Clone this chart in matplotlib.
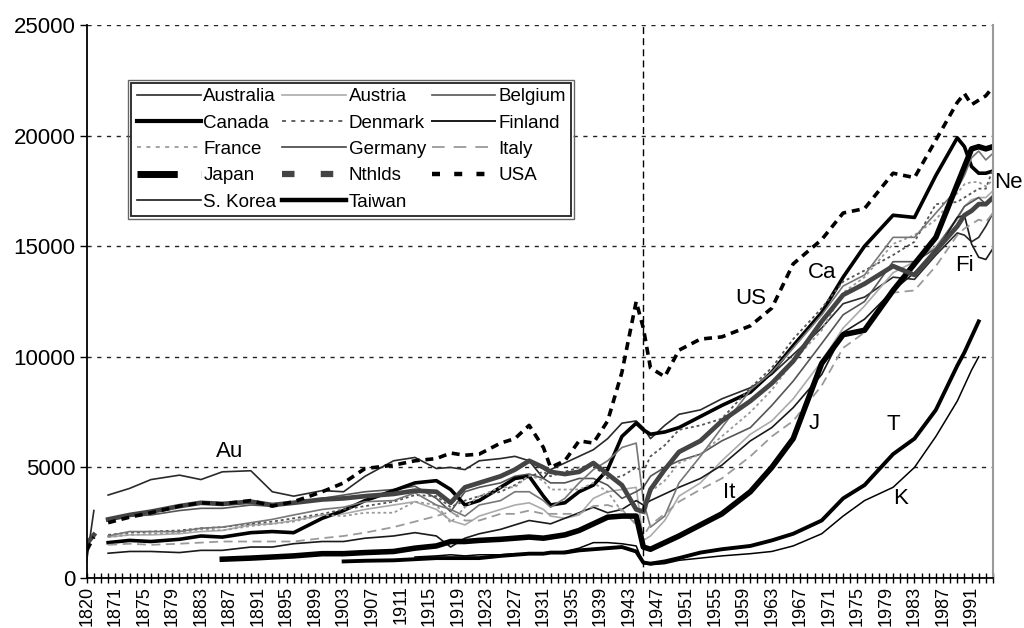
import matplotlib
matplotlib.use('Agg')
import matplotlib.pyplot as plt
from matplotlib.lines import Line2D
from matplotlib.patches import Rectangle
import numpy as np

plt.rcParams['font.family'] = ['Liberation Sans', 'DejaVu Sans']

# category axis: 1820, 1850, 1860, 1870, then every year to 1994
categories = ['1820', '1850', '1860', '1870'] + [str(y) for y in range(1871, 1995)]

years = [1820, 1850, 1860,
         1870, 1873, 1876, 1880, 1883, 1886, 1890, 1893, 1896, 1900,
         1903, 1906, 1910, 1913, 1916, 1918, 1920, 1922, 1925, 1927,
         1929, 1931, 1932, 1934, 1936, 1938, 1940, 1942, 1944, 1945,
         1946, 1948, 1950, 1953, 1956, 1960, 1963, 1966, 1970, 1973,
         1976, 1980, 1983, 1986, 1989, 1990, 1991, 1992, 1993, 1994]

australia = [800, 3050, None,
             3750, 4050, 4450, 4650, 4450, 4800, 4850, 3900, 3700, 3950,
             3900, 4600, 5300, 5450, 4950, 5000, 4900, 5300, 5400, 5500,
             5300, 4500, 4900, 5200, 5500, 5800, 6300, 7000, 7100, 6800,
             6300, 6900, 7400, 7600, 8100, 8600, 9200, 10100, 11300, 12400,
             12700, 13600, 13500, 14600, 15600, 15500, 15200, 15400, 15900, 16500]
austria = [None, None, None,
           1850, 1950, 1950, 2000, 2100, 2150, 2400, 2450, 2600, 2850,
           2900, 3100, 3300, 3450, 3100, 2600, 2400, 2800, 3100, 3300,
           3400, 3100, 2800, 2700, 2850, 3600, 3900, 4000, 4100, 1700,
           1900, 2600, 3700, 4300, 5300, 6500, 7100, 8100, 9800, 11300,
           12300, 13800, 14300, 15000, 16200, 16800, 17100, 17200, 17200, 17500]
belgium = [None, None, None,
           2650, 2800, 2850, 3050, 3150, 3150, 3300, 3250, 3400, 3600,
           3750, 3900, 4000, 4150, 3600, 3000, 3900, 4100, 4300, 4600,
           4700, 4500, 4300, 4300, 4500, 4500, 4200, 3600, 3900, 4100,
           4600, 5000, 5300, 5600, 6200, 6800, 7800, 8900, 10600, 11900,
           12500, 14300, 14300, 14900, 16300, 16800, 17000, 17200, 16900, 17300]
canada = [None, None, None,
          1600, 1700, 1650, 1750, 1900, 1850, 2050, 2100, 2050, 2700,
          3050, 3500, 3950, 4300, 4400, 4000, 3300, 3500, 4100, 4500,
          4600, 3700, 3300, 3400, 3900, 4200, 4900, 6400, 7000, 6700,
          6500, 6600, 6800, 7300, 7800, 8400, 9300, 10500, 12000, 13600,
          15000, 16400, 16300, 18200, 19900, 19500, 18600, 18300, 18300, 18400]
denmark = [None, None, None,
           1950, 2050, 2100, 2150, 2250, 2300, 2450, 2550, 2700, 2900,
           3100, 3250, 3450, 3750, 3700, 3200, 3500, 3700, 3900, 4200,
           4600, 4800, 4600, 4800, 5000, 5100, 4500, 4600, 5000, 4800,
           5500, 6000, 6700, 6900, 7200, 8600, 9500, 10800, 12200, 13400,
           13900, 14600, 15200, 16900, 17000, 17200, 17400, 17600, 17600, 18500]
finland = [None, None, None,
           1120, 1200, 1200, 1150, 1250, 1250, 1400, 1400, 1550, 1650,
           1650, 1800, 1900, 2050, 1900, 1400, 1800, 2000, 2200, 2400,
           2600, 2500, 2450, 2700, 2950, 3200, 2950, 3100, 3500, 3300,
           3500, 3800, 4100, 4500, 5100, 6200, 6800, 7700, 9200, 11100,
           11700, 13000, 13800, 14700, 16300, 16400, 15100, 14500, 14400, 14900]
france = [None, None, None,
          1850, 1950, 2000, 2050, 2200, 2150, 2350, 2450, 2550, 2850,
          2800, 2950, 2950, 3450, 3300, 2500, 3200, 3700, 4100, 4100,
          4650, 4400, 4000, 4000, 4000, 4300, 3900, 3000, 2500, 2600,
          3900, 4400, 5200, 5600, 6400, 7500, 8500, 9800, 11200, 12900,
          13600, 15100, 15500, 16200, 17400, 17800, 17900, 17900, 17700, 18000]
germany = [None, None, None,
           1900, 2100, 2100, 2100, 2250, 2300, 2500, 2650, 2850, 3100,
           3200, 3450, 3500, 3850, 3300, 3100, 2800, 3300, 3500, 3900,
           3900, 3500, 3200, 3600, 4300, 4900, 5300, 5900, 6100, 3500,
           2300, 2800, 4300, 5500, 6800, 8500, 9300, 10400, 11900, 13200,
           13700, 15400, 15400, 16500, 17600, 18200, 19000, 19300, 18900, 19200]
italy = [None, None, None,
         1500, 1550, 1500, 1550, 1600, 1650, 1650, 1650, 1650, 1800,
         1900, 2050, 2300, 2550, 2800, 3000, 2600, 2600, 2900, 2900,
         3050, 2900, 2900, 2900, 2900, 3250, 3300, 3100, 2400, 1900,
         2400, 2900, 3450, 4000, 4500, 5500, 6400, 7100, 8700, 10400,
         11100, 12900, 13000, 14100, 15500, 15800, 16000, 16200, 16100, 16500]
japan = [None, None, None,
         None, None, None, None, None, 850, 900, 950, 1000, 1100,
         1100, 1150, 1200, 1350, 1450, 1650, 1650, 1700, 1750, 1800,
         1850, 1800, 1850, 1950, 2150, 2450, 2750, 2800, 2800, 1400,
         1300, 1600, 1900, 2400, 2900, 3900, 5000, 6300, 9700, 11000,
         11200, 13000, 14200, 15400, 17800, 18600, 19400, 19500, 19400, 19500]
netherlands = [1550, 1950, None,
               2650, 2850, 3000, 3250, 3400, 3350, 3450, 3300, 3400, 3550,
               3600, 3700, 3800, 3950, 3900, 3400, 4100, 4300, 4600, 4900,
               5300, 5000, 4800, 4700, 4800, 5200, 4700, 4200, 3100, 3000,
               4000, 4900, 5700, 6200, 7100, 8000, 8800, 9800, 11600, 12800,
               13300, 14100, 13700, 14800, 15900, 16400, 16600, 16900, 16900, 17200]
usa = [1250, 1850, None,
       2500, 2750, 2950, 3250, 3400, 3350, 3500, 3250, 3450, 3900,
       4300, 4950, 5100, 5300, 5400, 5650, 5550, 5600, 6100, 6300,
       6900, 5900, 5000, 5300, 6200, 6100, 7100, 9300, 12500, 11300,
       9500, 9100, 10300, 10800, 10900, 11400, 12200, 14200, 15300, 16500,
       16700, 18300, 18100, 19800, 21500, 21900, 21400, 21600, 21800, 22200]
korea = [None, None, None,
         None, None, None, None, None, None, None, None, None, None,
         None, None, None, 950, 1000, 1050, 1000, 1050, 1050, 1100,
         1100, 1100, 1150, 1200, 1350, 1600, 1600, 1550, 1450, 650,
         600, 650, 800, 900, 1000, 1100, 1200, 1450, 2000, 2800,
         3500, 4100, 5000, 6400, 8000, 8700, 9400, 10000, None, None]
taiwan = [None, None, None,
          None, None, None, None, None, None, None, None, None, None,
          750, 780, 800, 850, 900, 900, 900, 900, 1000, 1050,
          1100, 1100, 1150, 1150, 1250, 1300, 1350, 1400, 1200, 700,
          650, 750, 900, 1150, 1300, 1450, 1700, 2000, 2600, 3600,
          4200, 5600, 6300, 7600, 9600, 10200, 10900, 11600, None, None]

names = ['Australia', 'Austria', 'Belgium', 'Canada', 'Denmark', 'Finland',
         'France', 'Germany', 'Italy', 'Japan', 'Nthlds', 'USA',
         'S. Korea', 'Taiwan']
data = [australia, austria, belgium, canada, denmark, finland, france,
        germany, italy, japan, netherlands, usa, korea, taiwan]

# style in the plot area
styles = [
    dict(color='#2a2a2a', lw=1.2),
    dict(color='#ababab', lw=1.2),
    dict(color='#555555', lw=1.2),
    dict(color='black', lw=2.6),
    dict(color='#555555', lw=1.3, ls=(0, (1.6, 1.6))),
    dict(color='#1a1a1a', lw=1.2),
    dict(color='#9a9a9a', lw=1.3, ls=(0, (1.6, 1.6))),
    dict(color='#777777', lw=1.2),
    dict(color='#9a9a9a', lw=1.3, ls=(0, (5, 3))),
    dict(color='black', lw=4.0),
    dict(color='#444444', lw=3.4),
    dict(color='black', lw=2.6, ls=(0, (2.2, 1.6))),
    dict(color='black', lw=1.1),
    dict(color='black', lw=2.8),
]
# style of the legend keys (Excel draws the dashes differently there)
key_styles = [
    dict(color='#2a2a2a', lw=1.2),
    dict(color='#ababab', lw=1.2),
    dict(color='#555555', lw=1.2),
    dict(color='black', lw=3.0),
    dict(color='#555555', lw=1.3, ls=(0, (2.2, 3.0))),
    dict(color='#1a1a1a', lw=1.4),
    dict(color='#9a9a9a', lw=1.3, ls=(0, (2.2, 3.0))),
    dict(color='#444444', lw=1.2),
    dict(color='#9a9a9a', lw=1.3, ls=(0, (7, 5))),
    dict(color='black', lw=5.0, ls=(0, (5.8, 3.4))),
    dict(color='#444444', lw=4.5, ls=(0, (2.0, 4.2))),
    dict(color='black', lw=3.2, ls=(0, (1.8, 3.2))),
    dict(color='#1a1a1a', lw=1.2),
    dict(color='black', lw=3.2),
]

pos = np.array([categories.index(str(y)) for y in years])

fig = plt.figure(figsize=(10.24, 6.28), dpi=100)
ax = fig.add_axes([0.0847, 0.0796, 0.885, 0.8806])

for vals, st in zip(data, styles):
    v = np.array([np.nan if x is None else x for x in vals], dtype=float)
    ax.plot(pos, v, solid_joinstyle='round', **st)

ax.axvline(categories.index('1945'), color='black', lw=1.0, ls=(0, (5, 3)))

ax.set_xlim(0, len(categories) - 1)
ax.set_ylim(0, 25000)
ax.set_yticks(range(0, 25001, 5000))
ax.tick_params(axis='y', labelsize=16, length=5, width=1, direction='out', pad=3)
ax.yaxis.grid(True, color='#222222', lw=1.0, ls=(0, (3, 4)))
ax.set_axisbelow(True)

ax.set_xticks(range(0, len(categories), 4))
ax.set_xticklabels(categories[::4], rotation=90, fontsize=13)
ax.set_xticks(range(len(categories)), minor=True)
ax.tick_params(axis='x', which='both', direction='inout', length=7, width=1, pad=2)

for s in ['left', 'bottom']:
    ax.spines[s].set_color('black')
    ax.spines[s].set_linewidth(1.3)
ax.spines['right'].set_color('#9a9a9a')
ax.spines['right'].set_linewidth(1.5)
ax.spines['top'].set_visible(False)

# line labels
labels = [('Au', '1887', 5700), ('US', '1960', 12650), ('Ca', '1970', 13830),
          ('J', '1969', 7000), ('It', '1957', 3850), ('T', '1980', 6950),
          ('K', '1981', 3600), ('Fi', '1990', 14150)]
for txt, yr, val in labels:
    ax.text(categories.index(yr), val, txt, fontsize=16, ha='center', va='center')
ax.text(len(categories) + 1.2, 17900, 'Ne', fontsize=16, ha='center', va='center',
        clip_on=False)

# legend, filled row by row like the original
handles = [Line2D([0], [0], **st) for st in key_styles]
order = [0, 3, 6, 9, 12, 1, 4, 7, 10, 13, 2, 5, 8, 11]
leg = ax.legend([handles[i] for i in order], [names[i] for i in order],
                ncol=3, loc='upper left', bbox_to_anchor=(0.049, 0.896),
                borderaxespad=0, fontsize=13.5, handlelength=3.4,
                handletextpad=0.15, columnspacing=0.3, labelspacing=0.49,
                borderpad=0.3, fancybox=False, framealpha=1)
leg.get_frame().set_edgecolor('#222222')
leg.get_frame().set_linewidth(1.3)

fig.canvas.draw()
bb = leg.get_window_extent().transformed(fig.transFigure.inverted())
px, py = 3 / 1024, 3 / 628
fig.add_artist(Rectangle((bb.x0 - px, bb.y0 - py), bb.width + 2 * px, bb.height + 2 * py,
                         transform=fig.transFigure, fill=False, ec='#666666', lw=1.0))

fig.savefig('out.png', dpi=100)
